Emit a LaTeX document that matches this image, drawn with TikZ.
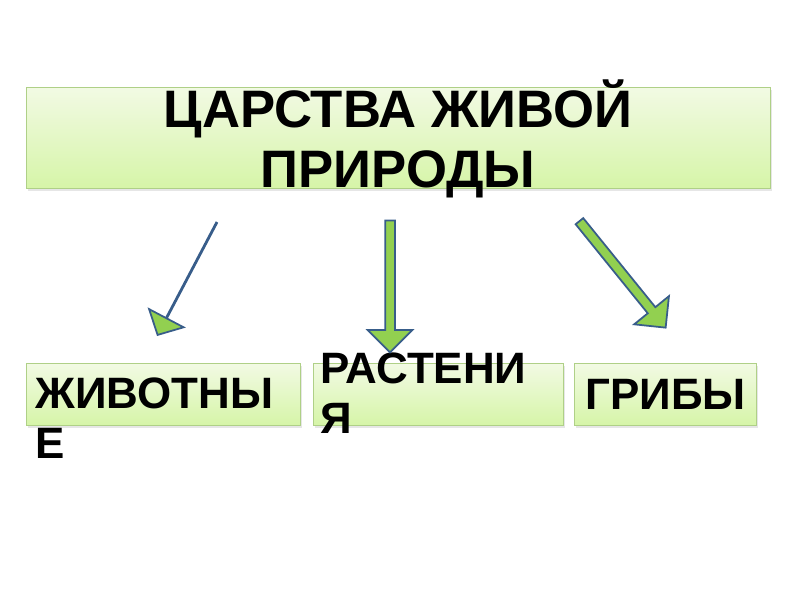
\documentclass[tikz,border=0pt]{standalone}
\usepackage{fontspec}
\setmainfont{Liberation Sans}
\usetikzlibrary{arrows.meta,positioning,shapes.arrows,shadows}
\definecolor{boxtop}{RGB}{242,250,228}
\definecolor{boxbottom}{RGB}{214,245,168}
\definecolor{boxline}{RGB}{175,208,135}
\definecolor{arrowgreen}{RGB}{146,208,80}
\definecolor{arrowblue}{RGB}{56,93,138}

\begin{document}
\begin{tikzpicture}[x=0.02cm,y=-0.02cm,>=Latex,
  kbox/.style={draw=boxline,top color=boxtop,bottom color=boxbottom,inner sep=0pt,
    drop shadow={shadow xshift=1pt,shadow yshift=-1.5pt,opacity=0.2}},
  ktext/.style={font=\bfseries\fontsize{25}{28.5}\selectfont,align=left,inner sep=0pt,anchor=north west},
  blockarrow/.style={single arrow,draw=arrowblue,fill=arrowgreen,line width=1pt,
    inner xsep=0pt,inner ysep=0.08cm,single arrow head extend=0.35cm}]
  \useasboundingbox (0,0) rectangle (800,600);
  \node[kbox,minimum width=14.88cm,minimum height=2.02cm] (kingdoms) at (398,137.5) {};
  \node[align=center,inner sep=0pt,font=\bfseries\fontsize{30}{34}\selectfont] (title) at (398,139) {ЦАРСТВА ЖИВОЙ\\ПРИРОДЫ};
  \node[kbox,minimum width=5.48cm,minimum height=1.24cm] (animals) at (163,394) {};
  \node[kbox,minimum width=5cm,minimum height=1.24cm,right=0.26cm of animals] (plants) {};
  \node[kbox,minimum width=3.64cm,minimum height=1.24cm,right=0.2cm of plants] (fungi) {};
  % texts run out of the boxes
  \node[ktext] (animalstext) at (35,377) {ЖИВОТНЫ\\Е};
  \node[ktext] (plantstext) at (320,352) {РАСТЕНИ\\Я};
  \node[ktext] (fungitext) at (585,379) {ГРИБЫ};
  % arrows
  \coordinate (a1) at (217,222);
  \coordinate (a2) at (157,336);
  \draw[arrowblue,line width=1.6pt,-{Triangle[length=0.42cm,width=0.86cm,fill=arrowgreen,line width=1pt]}] (a1) -- (a2);
  \node[blockarrow,minimum height=2.64cm,rotate=-90] (down) at (390,284) {};
  \node[blockarrow,minimum height=2.74cm,rotate=-51] (downright) at (621,272.5) {};
\end{tikzpicture}
\end{document}
